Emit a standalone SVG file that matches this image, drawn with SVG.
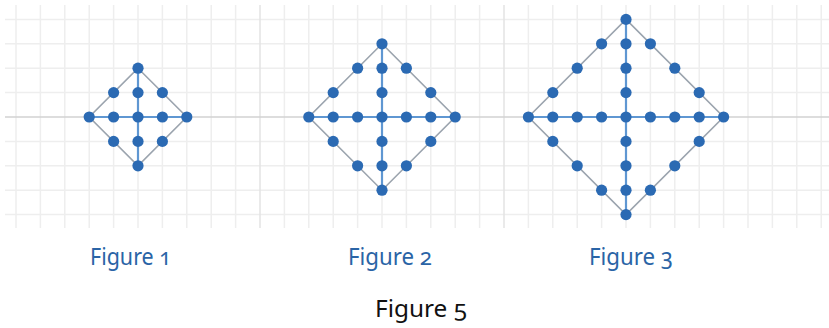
<svg xmlns="http://www.w3.org/2000/svg" xmlns:xlink="http://www.w3.org/1999/xlink" width="829" height="328" viewBox="0 0 829 328">
<style>
.g{stroke:#eeeeee;stroke-width:1.5;fill:none}
.sep{stroke:#e3e3e3;stroke-width:1.5}
.ax{stroke:#d2d2d2;stroke-width:1.5}
.edge{stroke:#9ba4ae;stroke-width:1.6;fill:none}
.cross{stroke:#5f97d2;stroke-width:2.2}
.dot{fill:#2b6ab3}
.lbl{font-family:"Noto Sans","Open Sans","Liberation Sans",sans-serif;font-size:23px;fill:#2a64a6;font-variant-numeric:oldstyle-nums}
.cap{font-family:"Noto Sans","Open Sans","Liberation Sans",sans-serif;font-size:24px;fill:#111;font-variant-numeric:oldstyle-nums}
</style>
<defs>
<circle id="d" r="5.6" class="dot"/>
</defs>
<rect width="829" height="328" fill="#fff"/>
<g id="grid-bg">
<g class="g">
<path d="M16 5V228M40.4 5V228M64.8 5V228M89.2 5V228M113.6 5V228M138 5V228M162.4 5V228M186.8 5V228M211.2 5V228M235.6 5V228M284.4 5V228M308.8 5V228M333.2 5V228M357.6 5V228M382 5V228M406.4 5V228M430.8 5V228M455.2 5V228M479.6 5V228M528.4 5V228M552.8 5V228M577.2 5V228M601.6 5V228M626 5V228M650.4 5V228M674.8 5V228M699.2 5V228M723.6 5V228M748 5V228M772.4 5V228M796.8 5V228M821.2 5V228"/>
<path d="M5 19.4H829M5 43.8H829M5 68.2H829M5 92.6H829M5 141.4H829M5 165.8H829M5 190.2H829M5 214.6H829"/>
</g>
<path class="sep" d="M260 5V228M504 5V228"/>
<path class="ax" d="M5 117H829"/>
</g>
<g id="connectors">
<path class="edge" d="M138 68.2L186.8 117L138 165.8L89.2 117Z"/>
<path class="cross" d="M138 68.2V165.8M89.2 117H186.8"/>
<path class="edge" d="M382 43.8L455.2 117L382 190.2L308.8 117Z"/>
<path class="cross" d="M382 43.8V190.2M308.8 117H455.2"/>
<path class="edge" d="M626 19.4L723.6 117L626 214.6L528.4 117Z"/>
<path class="cross" d="M626 19.4V214.6M528.4 117H723.6"/>
</g>
<g id="figure1">
<use xlink:href="#d" x="138" y="68.2"/><use xlink:href="#d" x="138" y="92.6"/><use xlink:href="#d" x="138" y="117"/><use xlink:href="#d" x="138" y="141.4"/><use xlink:href="#d" x="138" y="165.8"/>
<use xlink:href="#d" x="89.2" y="117"/><use xlink:href="#d" x="113.6" y="117"/><use xlink:href="#d" x="162.4" y="117"/><use xlink:href="#d" x="186.8" y="117"/>
<use xlink:href="#d" x="113.6" y="92.6"/><use xlink:href="#d" x="162.4" y="92.6"/><use xlink:href="#d" x="113.6" y="141.4"/><use xlink:href="#d" x="162.4" y="141.4"/>
<text class="lbl" x="90" y="265" textLength="81" lengthAdjust="spacingAndGlyphs">Figure 1</text>
</g>
<g id="figure2">
<use xlink:href="#d" x="382" y="43.8"/><use xlink:href="#d" x="382" y="68.2"/><use xlink:href="#d" x="382" y="92.6"/><use xlink:href="#d" x="382" y="117"/><use xlink:href="#d" x="382" y="141.4"/><use xlink:href="#d" x="382" y="165.8"/><use xlink:href="#d" x="382" y="190.2"/>
<use xlink:href="#d" x="308.8" y="117"/><use xlink:href="#d" x="333.2" y="117"/><use xlink:href="#d" x="357.6" y="117"/><use xlink:href="#d" x="406.4" y="117"/><use xlink:href="#d" x="430.8" y="117"/><use xlink:href="#d" x="455.2" y="117"/>
<use xlink:href="#d" x="357.6" y="68.2"/><use xlink:href="#d" x="406.4" y="68.2"/><use xlink:href="#d" x="333.2" y="92.6"/><use xlink:href="#d" x="430.8" y="92.6"/>
<use xlink:href="#d" x="333.2" y="141.4"/><use xlink:href="#d" x="430.8" y="141.4"/><use xlink:href="#d" x="357.6" y="165.8"/><use xlink:href="#d" x="406.4" y="165.8"/>
<text class="lbl" x="348" y="265" textLength="84" lengthAdjust="spacingAndGlyphs">Figure 2</text>
</g>
<g id="figure3">
<use xlink:href="#d" x="626" y="19.4"/><use xlink:href="#d" x="626" y="43.8"/><use xlink:href="#d" x="626" y="68.2"/><use xlink:href="#d" x="626" y="92.6"/><use xlink:href="#d" x="626" y="117"/><use xlink:href="#d" x="626" y="141.4"/><use xlink:href="#d" x="626" y="165.8"/><use xlink:href="#d" x="626" y="190.2"/><use xlink:href="#d" x="626" y="214.6"/>
<use xlink:href="#d" x="528.4" y="117"/><use xlink:href="#d" x="552.8" y="117"/><use xlink:href="#d" x="577.2" y="117"/><use xlink:href="#d" x="601.6" y="117"/><use xlink:href="#d" x="650.4" y="117"/><use xlink:href="#d" x="674.8" y="117"/><use xlink:href="#d" x="699.2" y="117"/><use xlink:href="#d" x="723.6" y="117"/>
<use xlink:href="#d" x="601.6" y="43.8"/><use xlink:href="#d" x="650.4" y="43.8"/><use xlink:href="#d" x="577.2" y="68.2"/><use xlink:href="#d" x="674.8" y="68.2"/><use xlink:href="#d" x="552.8" y="92.6"/><use xlink:href="#d" x="699.2" y="92.6"/>
<use xlink:href="#d" x="552.8" y="141.4"/><use xlink:href="#d" x="699.2" y="141.4"/><use xlink:href="#d" x="577.2" y="165.8"/><use xlink:href="#d" x="674.8" y="165.8"/><use xlink:href="#d" x="601.6" y="190.2"/><use xlink:href="#d" x="650.4" y="190.2"/>
<text class="lbl" x="589" y="265" textLength="84" lengthAdjust="spacingAndGlyphs">Figure 3</text>
</g>
<text id="caption" class="cap" x="375" y="317" textLength="92" lengthAdjust="spacingAndGlyphs">Figure 5</text>
</svg>
